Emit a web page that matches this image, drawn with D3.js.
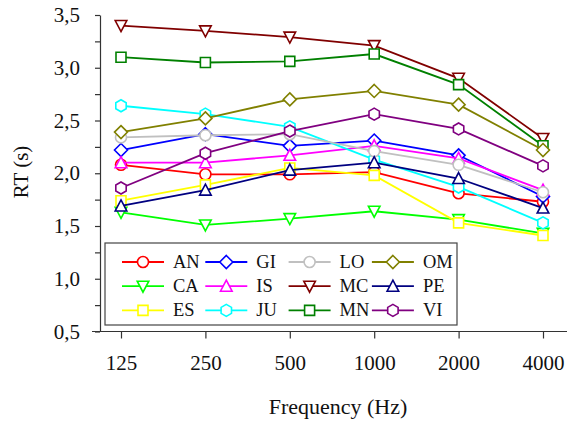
<!DOCTYPE html>
<html>
<head>
<meta charset="utf-8">
<script src="https://cdn.jsdelivr.net/npm/d3@7"></script>
<style>
  body { margin: 0; background: #fff; }
  svg text { font-family: "Liberation Serif", "Times New Roman", serif; fill: #111; }
</style>
</head>
<body>
<svg id="chart" width="570" height="421"></svg>
<script>
// frequencies (x categories)
var freqs = ["125", "250", "500", "1000", "2000", "4000"];
var yTicks = [0.5, 0.75, 1.0, 1.25, 1.5, 1.75, 2.0, 2.25, 2.5, 2.75, 3.0, 3.25, 3.5];

// RT values per subject
var AN = [2.08, 1.99, 1.99, 2.01, 1.81, 1.73];
var CA = [1.63, 1.51, 1.57, 1.64, 1.56, 1.43];
var ES = [1.74, 1.89, 2.05, 1.98, 1.53, 1.41];
var GI = [2.22, 2.37, 2.26, 2.31, 2.17, 1.78];
var IS = [2.10, 2.10, 2.17, 2.26, 2.14, 1.84];
var JU = [2.64, 2.56, 2.44, 2.13, 1.87, 1.53];
var LO = [2.34, 2.36, 2.37, 2.21, 2.08, 1.82];
var MC = [3.40, 3.35, 3.29, 3.21, 2.90, 2.33];
var MN = [3.10, 3.05, 3.06, 3.13, 2.84, 2.26];
var OM = [2.39, 2.52, 2.70, 2.78, 2.65, 2.22];
var PE = [1.69, 1.84, 2.03, 2.10, 1.95, 1.67];
var VI = [1.86, 2.19, 2.40, 2.56, 2.42, 2.07];

var names = ["AN", "CA", "ES", "GI", "IS", "JU", "LO", "MC", "MN", "OM", "PE", "VI"];
var values = [AN, CA, ES, GI, IS, JU, LO, MC, MN, OM, PE, VI];

var colors = ["#ff0000", "#00ff00", "#ffff00", "#0000ff", "#ff00ff", "#00ffff",
              "#c0c0c0", "#800000", "#008000", "#808000", "#000080", "#800080"];
var shapes = ["circle", "tri_down", "square", "diamond", "tri_up", "hexagon",
              "circle", "tri_down", "square", "diamond", "tri_up", "hexagon"];

var series = names.map(function(n, i) {
  return { name: n, color: colors[i], shape: shapes[i],
           points: freqs.map(function(f, j) { return { f: f, v: values[i][j] }; }) };
});

// marker outlines centred on 0,0
function markerPath(shape) {
  if (shape == "circle") return d3.symbol(d3.symbolCircle, Math.PI * 5.5 * 5.5)();
  if (shape == "square") return "M-5,-5h10v10h-10z";
  if (shape == "diamond") return "M0,-6.5L6.5,0L0,6.5L-6.5,0Z";
  if (shape == "tri_up") return "M0,-6L5.8,5L-5.8,5Z";
  if (shape == "tri_down") return "M0,6L5.8,-5L-5.8,-5Z";
  var pts = d3.range(6).map(function(k) {
    var a = -Math.PI / 2 + k * Math.PI / 3;
    return [6 * Math.cos(a), 6 * Math.sin(a)];
  });
  return "M" + pts.join("L") + "Z";
}

var svg = d3.select("#chart");

var xScale = d3.scalePoint().domain(freqs).range([121, 543]);
var yScale = d3.scaleLinear().domain([0.5, 3.5]).range([331.5, 15]);

var axisColor = "#333";

// y axis
var yAxis = svg.append("g")
    .attr("transform", "translate(100,0)")
    .call(d3.axisLeft(yScale)
      .tickValues(yTicks)
      .tickSize(5)
      .tickSizeOuter(0)
      .tickPadding(15)
      .tickFormat(function(d) {
        return (Math.round(d * 100) % 50 == 0) ? d.toFixed(1).replace(".", ",") : "";
      }));
yAxis.attr("font-family", null);
yAxis.selectAll("text").style("font-size", "21px").attr("fill", "#111");
yAxis.selectAll("line, path").attr("stroke", axisColor).attr("stroke-width", 1.2);

// x axis
var xAxis = svg.append("g")
    .attr("transform", "translate(0," + yScale(0.5) + ")")
    .call(d3.axisBottom(xScale).tickSize(7).tickSizeOuter(0).tickPadding(17));
xAxis.attr("font-family", null);
xAxis.select(".domain").remove();
xAxis.append("line")
    .attr("x1", 92).attr("x2", 567)
    .attr("stroke", axisColor).attr("stroke-width", 1.2);
xAxis.selectAll("text").style("font-size", "21px").attr("fill", "#111");
xAxis.selectAll("line").attr("stroke", axisColor).attr("stroke-width", 1.2);

// axis titles
svg.append("text")
    .attr("x", 338).attr("y", 414)
    .attr("text-anchor", "middle")
    .style("font-size", "22px")
    .text("Frequency (Hz)");

svg.append("text")
    .attr("transform", "translate(28,172) rotate(-90)")
    .attr("text-anchor", "middle")
    .style("font-size", "21px")
    .text("RT (s)");

// lines + markers, one series at a time
var line = d3.line()
    .x(function(d) { return xScale(d.f); })
    .y(function(d) { return yScale(d.v); });

series.forEach(function(s) {
  var g = svg.append("g");
  g.append("path")
      .datum(s.points)
      .attr("d", line)
      .attr("fill", "none")
      .attr("stroke", s.color)
      .attr("stroke-width", 1.8);
  g.selectAll("path.mark")
      .data(s.points)
      .enter().append("path")
      .attr("class", "mark")
      .attr("d", markerPath(s.shape))
      .attr("transform", function(d) { return "translate(" + xScale(d.f) + "," + yScale(d.v) + ")"; })
      .attr("fill", "#fff")
      .attr("stroke", s.color)
      .attr("stroke-width", 1.6);
});

// legend, filled column by column
var legend = svg.append("g");
legend.append("rect")
    .attr("x", 105).attr("y", 243)
    .attr("width", 352).attr("height", 82)
    .attr("fill", "#fff")
    .attr("stroke", "#444")
    .attr("stroke-width", 1.2);

var entry = legend.selectAll("g.entry")
    .data(series)
    .enter().append("g")
    .attr("class", "entry")
    .attr("transform", function(d, i) {
      var col = Math.floor(i / 3), row = i % 3;
      return "translate(" + (122 + col * 83.3) + "," + (262 + row * 24.2) + ")";
    });

entry.append("line")
    .attr("x1", 0).attr("x2", 42)
    .attr("stroke", function(d) { return d.color; })
    .attr("stroke-width", 1.8);
entry.append("path")
    .attr("d", function(d) { return markerPath(d.shape); })
    .attr("transform", "translate(21,0)")
    .attr("fill", "#fff")
    .attr("stroke", function(d) { return d.color; })
    .attr("stroke-width", 1.6);
entry.append("text")
    .attr("x", 51).attr("y", 6)
    .style("font-size", "18.5px")
    .text(function(d) { return d.name; });
</script>
</body>
</html>
